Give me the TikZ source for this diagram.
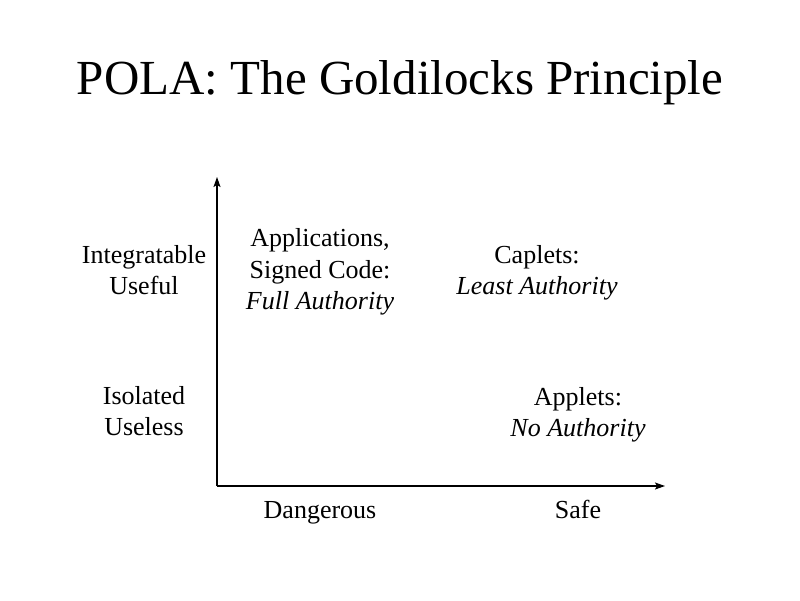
\documentclass[tikz,border=0pt]{standalone}
\usepackage{fontspec}
\setmainfont{Liberation Serif}
\usetikzlibrary{arrows.meta}
\begin{document}
\begin{tikzpicture}[x=1pt,y=-1pt,
  label/.style={align=center, inner sep=0pt, font=\fontsize{26}{31.5}\selectfont},
  axis/.style={line width=1.2pt, -{Stealth[length=10pt,width=7pt,inset=2pt]}}]
  \useasboundingbox[fill=white] (0,0) rectangle (800,600);
  \node[inner sep=0pt, anchor=base, font=\fontsize{49}{58}\selectfont] (title) at (400,94) {POLA: The Goldilocks Principle};
  % axes
  \coordinate (origin) at (217,486);
  \coordinate (ytop) at (217,177);
  \coordinate (xend) at (665,486);
  \draw[axis] (origin) -- (ytop);
  \draw[axis] (origin) -- (xend);
  % vertical axis labels
  \node[label] (useful) at (144,270) {Integratable\\Useful};
  \node[label] (useless) at (144,411) {Isolated\\Useless};
  % horizontal axis labels
  \node[label, anchor=base] (danger) at (320,518.5) {Dangerous};
  \node[label, anchor=base] (safe) at (578,518.5) {Safe};
  % quadrant contents
  \node[label] (apps) at (320,272) {Applications,\\Signed Code:\\\textit{Full Authority}};
  \node[label] (caplets) at (537,273) {Caplets:\\\textit{Least Authority}};
  \node[label] (applets) at (578,415) {Applets:\\\textit{No Authority}};
\end{tikzpicture}
\end{document}
